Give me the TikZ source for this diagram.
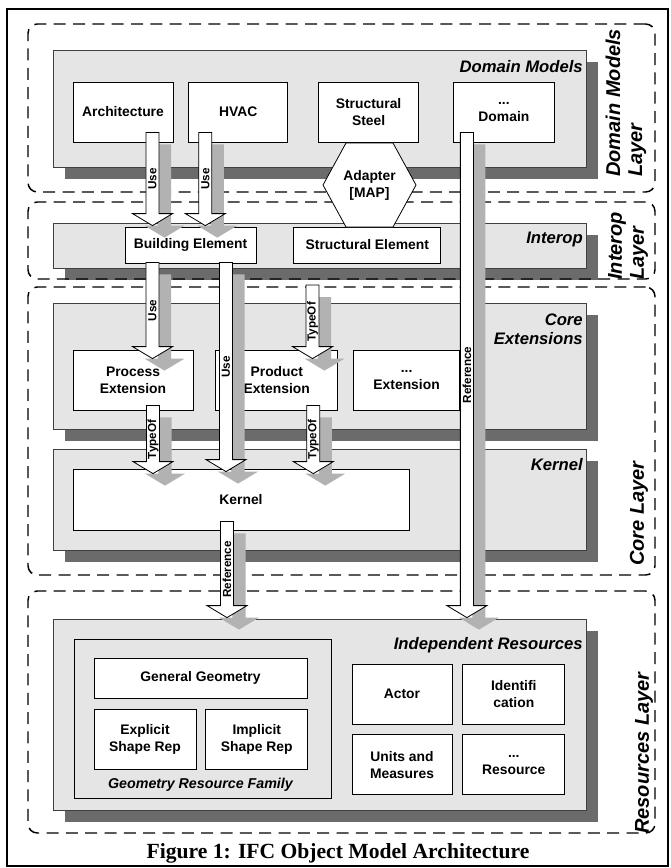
\documentclass[tikz,border=0pt]{standalone}
\usepackage{fontspec}
\setmainfont{Liberation Sans}
\newfontfamily\captionserif{Liberation Serif}
\usepackage{tikz}
\usetikzlibrary{positioning, calc, shadows}

\newcommand{\modfont}{\fontsize{10.4}{12.8}\selectfont\bfseries}
\newcommand{\grpfont}{\fontsize{12.5}{14.5}\selectfont\bfseries\itshape}
\newcommand{\famfont}{\fontsize{10.7}{13}\selectfont\bfseries\itshape}
\newcommand{\lyrfont}{\fontsize{15}{16.5}\selectfont\bfseries\itshape}
\newcommand{\arwfont}{\fontsize{8.8}{10}\selectfont\bfseries}
\newcommand{\capfont}{\fontsize{16.2}{19}\selectfont\captionserif\bfseries}

\tikzset{boxsize/.style 2 args={minimum width=#1*0.75pt, minimum height=#2*0.75pt}}
\tikzstyle{layerbox} = [rectangle, draw=black, line width=1.1pt, dash pattern=on 9pt off 5.5pt, rounded corners=7pt]
\tikzstyle{panel} = [rectangle, draw=black!75, fill=black!10, line width=0.6pt, drop shadow={shadow xshift=9pt, shadow yshift=-9pt, fill=black!58, draw=none, opacity=1}]
\tikzstyle{familybox} = [rectangle, draw=black, fill=black!10, line width=0.6pt]
\tikzstyle{module} = [rectangle, draw=black, fill=white, line width=0.6pt, align=center, font=\modfont, inner sep=1pt]
\tikzstyle{adapterhex} = [draw=black, fill=white, line width=0.6pt]
\tikzstyle{bigarrow} = [draw=black, fill=white, line width=0.6pt, drop shadow={shadow xshift=9pt, shadow yshift=-9pt, fill=black!30, draw=none, opacity=1}]
\tikzstyle{arrowtext} = [rotate=90, inner sep=0pt, font=\arwfont]
\tikzstyle{grouptitle} = [anchor=east, inner sep=0pt, align=right, font=\grpfont]
\tikzstyle{layertitle} = [rotate=90, anchor=west, inner sep=0pt, align=left, font=\lyrfont]

% block arrow: name, start, tip, label
\newcommand{\blockarrow}[4]{%
  \draw[bigarrow] let \p1=(#2), \p2=(#3) in
    (\x1-4.9pt,\y1) -- (\x1-4.9pt,\y2+9pt) -- (\x1-15pt,\y2+9pt) -- (\x1,\y2)
    -- (\x1+15pt,\y2+9pt) -- (\x1+4.9pt,\y2+9pt) -- (\x1+4.9pt,\y1) -- cycle;
  \path let \p1=(#2), \p2=(#3) in node[arrowtext] (#1) at (\x1,{0.5*\y1+0.5*\y2}) {#4};
}

\begin{document}
\begin{tikzpicture}[x=0.75pt, y=-0.75pt]
        \useasboundingbox (0,0) rectangle (671,868);
        \draw[line width=2pt] (7,9) rectangle (668,866);

        % panels
        \node (domainpanel) [panel, boxsize={533}{117}] at (319.5,108.5) {};
        \node (interoppanel) [panel, boxsize={533}{45}] at (319.5,245.5) {};
        \node (corepanel) [panel, boxsize={533}{126}] at (319.5,366) {};
        \node (kernelpanel) [panel, boxsize={533}{101}] at (319.5,499.5) {};
        \node (respanel) [panel, boxsize={533}{191}] at (319.5,714.5) {};

        % domain models
        \node (arch) [module, boxsize={100}{60}] at (123,112) {Architecture};
        \node (hvac) [module, boxsize={99}{60}, right=11.25pt of arch] {HVAC};
        \node (steel) [module, boxsize={100}{60}, right=22.5pt of hvac] {Structural\\Steel};
        \node (domain) [module, boxsize={101}{60}, right=25.5pt of steel] {...\\Domain};

        % interop
        \node (bldg) [module, boxsize={131}{36}] at (190.5,245) {Building Element};
        \node (structel) [module, boxsize={147}{36}, right=27.75pt of bldg] {Structural Element};

        % core
        \node (procext) [module, boxsize={120}{60}] at (133,380) {Process\\Extension};
        \node (prodext) [module, boxsize={122}{60}, right=16.5pt of procext] {Product\\Extension};
        \node (moreext) [module, boxsize={106}{60}, right=11.25pt of prodext] {...\\Extension};
        \node (kernel) [module, boxsize={336}{61}] at (241,499.5) {Kernel};

        % resources
        \node (geomfam) [familybox, boxsize={257}{159}] at (202.5,718.5) {};
        \node (gengeom) [module, boxsize={213}{40}] at (200.5,678) {General Geometry};
        \node (explicit) [module, boxsize={102}{60}] at (145,739) {Explicit\\Shape Rep};
        \node (implicit) [module, boxsize={102}{60}, right=6.75pt of explicit] {Implicit\\Shape Rep};
        \node (geomtitle) [font=\famfont, inner sep=0pt] at (200.5,785) {Geometry Resource Family};
        \node (actor) [module, boxsize={100}{60}] at (402,694) {Actor};
        \node (ident) [module, boxsize={102}{60}, right=7.5pt of actor] {Identifi\\cation};
        \node (units) [module, boxsize={100}{60}, below=7.5pt of actor] {Units and\\Measures};
        \node (moreres) [module, boxsize={102}{60}, below=7.5pt of ident] {...\\Resource};

        % layers
        \node (domainlayer) [layerbox, boxsize={627}{168}] at (341.5,108) {};
        \node (interoplayer) [layerbox, boxsize={627}{77}] at (341.5,240.5) {};
        \node (corelayer) [layerbox, boxsize={627}{288}] at (341.5,431) {};
        \node (reslayer) [layerbox, boxsize={627}{242}] at (341.5,712) {};

        % adapter
        \coordinate (adaptc) at (369.5,185);
        \filldraw[adapterhex] ($(adaptc)+(-23.5,-42)$) -- ($(adaptc)+(23.5,-42)$) -- ($(adaptc)+(46.5,0)$)
            -- ($(adaptc)+(23.5,42)$) -- ($(adaptc)+(-23.5,42)$) -- ($(adaptc)+(-46.5,0)$) -- cycle;
        \node (adapter) [align=center, font=\modfont, inner sep=0pt] at (adaptc) {Adapter\\{[MAP]}};

        % arrows
        \coordinate (typeoftop) at (312.5,285);
        \blockarrow{usearch}{$(arch.south)+(29.5,-10)$}{$(bldg.north)+(-38,-1)$}{Use}
        \blockarrow{usehvac}{$(hvac.south)+(-33,-10)$}{$(bldg.north)+(14,-1)$}{Use}
        \blockarrow{useproc}{$(bldg.south)+(-38,-1)$}{$(procext.north)+(19.5,9)$}{Use}
        \blockarrow{usekernel}{$(bldg.south)+(35.5,-1)$}{$(kernel.north)+(-15,3)$}{Use}
        \blockarrow{typeofprod}{typeoftop}{$(prodext.north)+(36.5,9)$}{TypeOf}
        \blockarrow{typeofproc}{$(procext.south)+(20,-5)$}{$(kernel.north)+(-88,5)$}{TypeOf}
        \blockarrow{typeofprodk}{$(prodext.south)+(36.5,-5)$}{$(kernel.north)+(71.5,5)$}{TypeOf}
        \blockarrow{refkernel}{$(kernel.south)+(-14,-9)$}{$(respanel.north)+(-92.5,-1)$}{Reference}
        \blockarrow{refdomain}{$(domain.south)+(-37,-10)$}{$(respanel.north)+(145,-1)$}{Reference}

        % titles
        \node (domaintitle) [grouptitle] at (583,67) {Domain Models};
        \node (interoptitle) [grouptitle] at (583,239) {Interop};
        \node (coretitle) [grouptitle] at (583,329) {Core\\Extensions};
        \node (kerneltitle) [grouptitle] at (583,465) {Kernel};
        \node (restitle) [grouptitle] at (583,645) {Independent Resources};

        \node (domainlayertitle) [layertitle] at (626,177) {Domain Models\\Layer};
        \node (interoplayertitle) [layertitle] at (628,280) {Interop\\Layer};
        \node (corelayertitle) [layertitle] at (639,566) {Core Layer};
        \node (reslayertitle) [layertitle] at (644,834) {Resources Layer};

        \node (caption) [font=\capfont] at (338,853) {Figure 1: IFC Object Model Architecture};
\end{tikzpicture}
\end{document}
